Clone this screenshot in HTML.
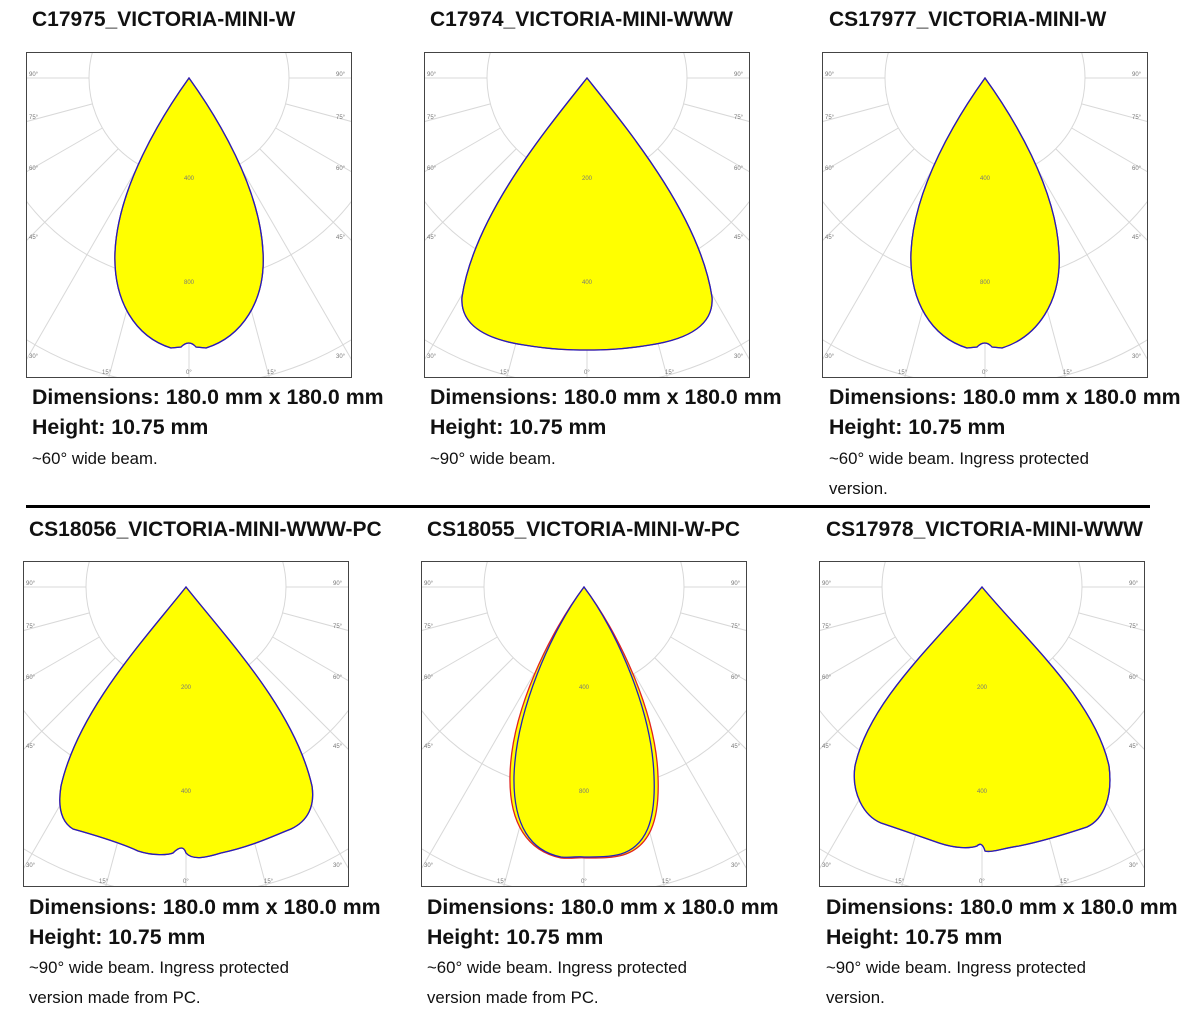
<!DOCTYPE html>
<html><head><style>
body{margin:0;width:1200px;height:1022px;background:#fff;position:relative;font-family:"Liberation Sans",sans-serif;overflow:hidden}
.t{position:absolute;font-weight:bold;font-size:21px;color:#111;white-space:nowrap}
.d{position:absolute;font-weight:bold;font-size:21.3px;color:#111;white-space:nowrap}
.s{position:absolute;font-size:16.8px;color:#111;white-space:nowrap}
svg{position:absolute}
</style></head><body>
<div class="t" style="left:32px;top:8px">C17975_VICTORIA-MINI-W</div>
<div class="t" style="left:430px;top:8px">C17974_VICTORIA-MINI-WWW</div>
<div class="t" style="left:829px;top:8px">CS17977_VICTORIA-MINI-W</div>
<div class="t" style="left:29px;top:518px">CS18056_VICTORIA-MINI-WWW-PC</div>
<div class="t" style="left:427px;top:518px">CS18055_VICTORIA-MINI-W-PC</div>
<div class="t" style="left:826px;top:518px">CS17978_VICTORIA-MINI-WWW</div>

<div class="d" style="left:32px;top:385px">Dimensions: 180.0 mm x 180.0 mm</div>
<div class="d" style="left:32px;top:415px">Height: 10.75 mm</div>
<div class="s" style="left:32px;top:449px">~60° wide beam.</div>
<div class="d" style="left:430px;top:385px">Dimensions: 180.0 mm x 180.0 mm</div>
<div class="d" style="left:430px;top:415px">Height: 10.75 mm</div>
<div class="s" style="left:430px;top:449px">~90° wide beam.</div>
<div class="d" style="left:829px;top:385px">Dimensions: 180.0 mm x 180.0 mm</div>
<div class="d" style="left:829px;top:415px">Height: 10.75 mm</div>
<div class="s" style="left:829px;top:449px">~60° wide beam. Ingress protected</div>
<div class="s" style="left:829px;top:479px">version.</div>

<div style="position:absolute;left:26px;top:505px;width:1124px;height:3px;background:#000"></div>

<div class="d" style="left:29px;top:895px">Dimensions: 180.0 mm x 180.0 mm</div>
<div class="d" style="left:29px;top:925px">Height: 10.75 mm</div>
<div class="s" style="left:29px;top:958px">~90° wide beam. Ingress protected</div>
<div class="s" style="left:29px;top:988px">version made from PC.</div>
<div class="d" style="left:427px;top:895px">Dimensions: 180.0 mm x 180.0 mm</div>
<div class="d" style="left:427px;top:925px">Height: 10.75 mm</div>
<div class="s" style="left:427px;top:958px">~60° wide beam. Ingress protected</div>
<div class="s" style="left:427px;top:988px">version made from PC.</div>
<div class="d" style="left:826px;top:895px">Dimensions: 180.0 mm x 180.0 mm</div>
<div class="d" style="left:826px;top:925px">Height: 10.75 mm</div>
<div class="s" style="left:826px;top:958px">~90° wide beam. Ingress protected</div>
<div class="s" style="left:826px;top:988px">version.</div>

<div id="c"></div>
<script>
var narrow="M163,26 C135,65 92,135 89,200 C87,250 110,285 145,296 L155,295 Q163,287 170,295 L180,296 C215,285 240,250 237,200 C234,135 191,65 163,26 Z";
var wide="M163,26 C120,80 50,165 38,245 C36,272 60,287 100,293 C130,298 150,298 163,298 C176,298 196,298 226,293 C266,287 290,272 288,245 C276,165 206,80 163,26 Z";
var wide4="M163,26 C120,80 55,150 38,225 C34,250 40,262 50,268 C75,275 100,283 115,290 C130,295 145,294 150,292 Q160,282 163,292 C170,300 185,296 198,292 C230,285 250,275 268,268 C285,260 292,245 289,225 C272,150 206,80 163,26 Z";
var narrow5="M163,26 C130,70 95,150 93,215 C92,265 110,290 140,296 C150,297 158,295 163,296 C175,296 190,296 200,293 C225,285 235,260 233,215 C231,150 196,70 163,26 Z";
var narrow5r="M163,26 C129,71 90,150 89,215 C88,263 107,290 140,297 C152,298 158,296 165,297 C180,297 192,297 202,294 C228,286 239,261 237,215 C235,150 197,71 163,26 Z";
var wide6="M163,26 C118,80 50,140 36,205 C32,232 45,255 62,262 C80,268 100,275 120,282 C135,287 150,288 158,285 Q163,280 166,290 C172,292 185,287 200,285 C225,280 250,272 268,266 C285,258 294,235 290,205 C276,140 208,80 163,26 Z";
var panels=[[26,52,narrow,narrow,400,800],[424,52,wide,wide,200,400],[822,52,narrow,narrow,400,800],
[23,561,wide4,wide4,200,400],[421,561,narrow5,narrow5r,400,800],[819,561,wide6,wide6,200,400]];
var h="";
panels.forEach(function(p){
 var s='<svg style="left:'+p[0]+'px;top:'+p[1]+'px" width="327" height="327" viewBox="0 0 327 327"><defs><clipPath id="k'+p[0]+p[1]+'"><rect x="0" y="0" width="326" height="326"/></clipPath></defs><g clip-path="url(#k'+p[0]+p[1]+')" stroke="#d8d8d8" stroke-width="1" fill="none">';
 [100,204,308].forEach(function(r){s+='<circle cx="163" cy="26" r="'+r+'"/>';});
 [0,15,30,45,60,75,90].forEach(function(a){var t=a*Math.PI/180;[1,-1].forEach(function(sg){var dx=Math.sin(t)*sg,dy=Math.cos(t);s+='<line x1="'+(163+dx*100)+'" y1="'+(26+dy*100)+'" x2="'+(163+dx*600)+'" y2="'+(26+dy*600)+'"/>';});});
 s+='</g>';
 s+='<path d="'+p[3]+'" fill="#ffff00" stroke="#e02020" stroke-width="1.3"/>';
 s+='<path d="'+p[2]+'" fill="none" stroke="#2020c0" stroke-width="1.3"/>';
 s+='<g font-size="6" fill="#777" font-family="Liberation Sans">';
 [[90,24],[75,67],[60,118],[45,187],[30,306]].forEach(function(l){s+='<text x="3" y="'+l[1]+'">'+l[0]+'°</text><text x="310" y="'+l[1]+'">'+l[0]+'°</text>';});
 s+='<text x="76" y="322">15°</text><text x="241" y="322">15°</text><text x="160" y="322">0°</text>';
 s+='<text x="158" y="128">'+p[4]+'</text><text x="158" y="232">'+p[5]+'</text></g>';
 s+='<rect x="0.5" y="0.5" width="325" height="325" fill="none" stroke="#444" stroke-width="1"/></svg>';
 h+=s;
});
document.getElementById("c").innerHTML=h;
</script>
</body></html>
